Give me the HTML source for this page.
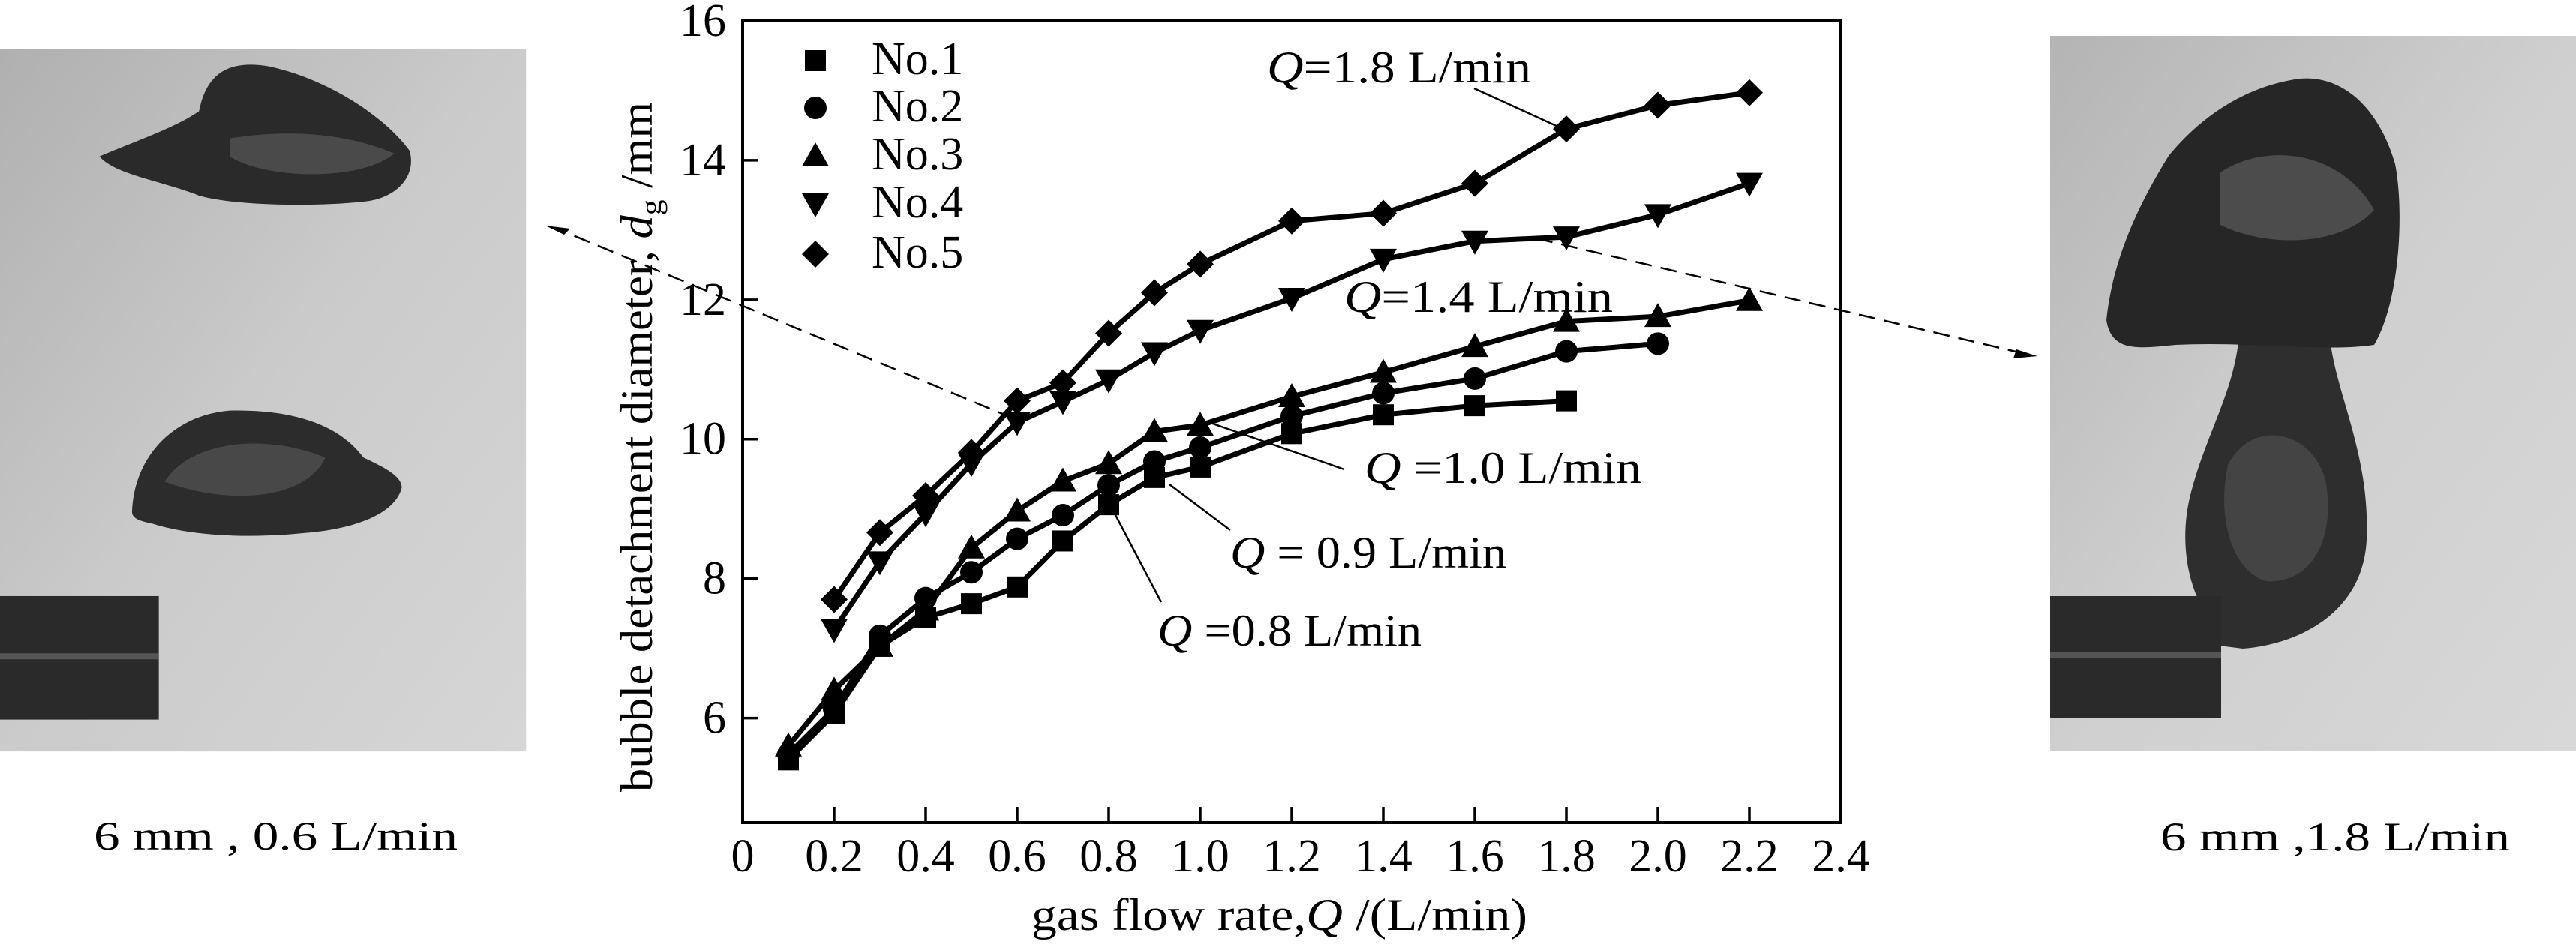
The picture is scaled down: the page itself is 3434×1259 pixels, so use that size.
<!DOCTYPE html>
<html><head><meta charset="utf-8"><style>
html,body{margin:0;padding:0;background:#fff;}
svg{display:block;}
text{font-family:"Liberation Serif",serif;fill:#000;}
</style></head><body>
<svg id="fig" width="3434" height="1259" viewBox="0 0 3434 1259" xmlns="http://www.w3.org/2000/svg">
<defs>
<linearGradient id="bgL" x1="0" y1="0" x2="1" y2="1"><stop offset="0" stop-color="#b0b0b0"/><stop offset="0.5" stop-color="#cbcbcb"/><stop offset="1" stop-color="#d6d6d6"/></linearGradient>
<linearGradient id="bgR" x1="0" y1="0" x2="1" y2="1"><stop offset="0" stop-color="#b4b4b4"/><stop offset="0.5" stop-color="#cfcfcf"/><stop offset="1" stop-color="#d8d8d8"/></linearGradient>
</defs>
<!-- left photo -->
<g transform="scale(0.51,0.803)">
<rect x="0" y="82" width="1375" height="1166" fill="url(#bgL)"/>
<path d="M260,260 C330,240 450,215 520,185 C540,120 600,100 700,110 C850,130 1000,190 1070,250 C1090,290 1040,330 950,335 C800,345 600,340 520,325 C420,300 300,290 260,260 Z" fill="#2a2a2a"/>
<path d="M600,230 C750,215 900,220 1030,255 C950,300 700,300 600,260 Z" fill="#4a4a4a"/>
<path d="M345,850 C350,760 450,690 600,682 C750,680 880,700 950,760 C1000,775 1050,790 1050,810 C1030,860 900,880 800,885 C650,895 500,890 400,870 C360,865 345,860 345,850 Z" fill="#2c2c2c"/>
<path d="M430,800 C500,730 700,720 850,760 C800,830 600,840 430,800 Z" fill="#484848"/>
<rect x="0" y="990" width="415" height="205" fill="#2a2a2a"/>
<rect x="0" y="1085" width="415" height="10" fill="#555"/>
</g>
<text x="125" y="1133" font-size="54" textLength="485" lengthAdjust="spacingAndGlyphs">6 mm , 0.6  L/min</text>
<!-- right photo -->
<g>
<rect x="2733" y="48" width="701" height="953" fill="url(#bgR)"/>
<path d="M2985,445 L3105,440 C3110,520 3160,600 3155,720 C3150,820 3060,860 2990,865 L2950,860 L2950,830 C2915,790 2905,720 2920,660 C2940,580 2980,520 2985,445 Z" fill="#2e2e2e"/>
<path d="M2970,620 C3000,560 3080,570 3100,640 C3115,720 3080,780 3020,775 C2975,760 2955,690 2970,620 Z" fill="#444"/>
<path d="M2808,427 C2815,360 2840,290 2891,208 C2930,160 2990,115 3066,105 C3120,100 3170,140 3193,219 C3205,280 3200,400 3165,460 C3100,470 3000,455 2900,460 C2850,465 2815,470 2808,427 Z" fill="#262626"/>
<path d="M2960,230 C3020,190 3120,200 3165,280 C3120,330 3020,330 2960,300 Z" fill="#4c4c4c"/>
<rect x="2733" y="795" width="228" height="162" fill="#2a2a2a"/>
<rect x="2733" y="870" width="228" height="7" fill="#555"/>
</g>
<text x="2880" y="1134" font-size="54" textLength="466" lengthAdjust="spacingAndGlyphs">6 mm ,1.8  L/min</text>

<!-- dashed arrows -->
<g>
<line x1="1351" y1="558" x2="740" y2="304" stroke="#000" stroke-width="2.5" stroke-dasharray="22,12"/>
<path d="M727,301 L760,305 L752,313 Z" fill="#000"/>
</g>
<g>
<line x1="2048" y1="318" x2="2700" y2="472" stroke="#000" stroke-width="2.5" stroke-dasharray="22,12"/>
<path d="M2716,475 L2684,478 L2688,466 Z" fill="#000"/>
</g>

<g id="chart"></g>
</svg>
<script>
const xs1 = [0.1,0.2,0.3,0.4,0.5,0.6,0.7,0.8,0.9,1.0,1.2,1.4,1.6,1.8];
const ys1 = [5.4,6.06,7.03,7.44,7.64,7.88,8.54,9.06,9.45,9.6,10.08,10.35,10.48,10.55];
const xs2 = [0.1,0.2,0.3,0.4,0.5,0.6,0.7,0.8,0.9,1.0,1.2,1.4,1.6,1.8,2.0];
const ys2 = [5.48,6.13,7.18,7.72,8.09,8.57,8.91,9.34,9.68,9.88,10.33,10.66,10.87,11.26,11.37];
const xs3 = [0.1,0.2,0.3,0.4,0.5,0.6,0.7,0.8,0.9,1.0,1.2,1.4,1.6,1.8,2.0,2.2];
const ys3 = [5.6,6.4,7.03,7.55,8.44,8.97,9.4,9.65,10.11,10.2,10.61,10.96,11.33,11.69,11.76,11.99];
const xs4 = [0.2,0.3,0.4,0.5,0.6,0.7,0.8,0.9,1.0,1.2,1.4,1.6,1.8,2.0,2.2];
const ys4 = [7.27,8.24,8.93,9.65,10.24,10.54,10.85,11.24,11.56,12.02,12.58,12.84,12.9,13.22,13.67];
const xs5 = [0.2,0.3,0.4,0.5,0.6,0.7,0.8,0.9,1.0,1.2,1.4,1.6,1.8,2.0,2.2];
const ys5 = [7.7,8.66,9.19,9.81,10.55,10.81,11.52,12.1,12.51,13.13,13.24,13.67,14.45,14.79,14.97];
const seriesNames = ["No.1","No.2","No.3","No.4","No.5"];
const xTicks = [0,0.2,0.4,0.6,0.8,1.0,1.2,1.4,1.6,1.8,2.0,2.2,2.4];
const xTickLabels = ["0","0.2","0.4","0.6","0.8","1.0","1.2","1.4","1.6","1.8","2.0","2.2","2.4"];
const yTicks = [6,8,10,12,14,16];
const yTickLabels = ["6","8","10","12","14","16"];

const NS = "http://www.w3.org/2000/svg";
const L=990, R=2454, T=28, B=1097, XMIN=0, XMAX=2.4, YMIN=4.5, YMAX=16;
const X = v => L + (v-XMIN)/(XMAX-XMIN)*(R-L);
const Y = v => B - (v-YMIN)/(YMAX-YMIN)*(B-T);
const chart = document.getElementById('chart');
function el(tag, attrs, parent){const e=document.createElementNS(NS,tag);for(const k in attrs)e.setAttribute(k,attrs[k]);(parent||chart).appendChild(e);return e;}

const frame = el('rect',{x:L,y:T,width:R-L,height:B-T,fill:'none',stroke:'#000','stroke-width':4});



xTicks.forEach((v,i)=>{
  if(i>0 && i<xTicks.length-1){
    const t=el('line',{x1:X(v),y1:B,x2:X(v),y2:B-21,stroke:'#000','stroke-width':3.5});
    
    
  }
  const lb=el('text',{x:X(v),y:1162,'font-size':62,'text-anchor':'middle'});
  lb.textContent=xTickLabels[i];
  
  
});
yTicks.forEach((v,i)=>{
  if(v<16){
    const t=el('line',{x1:L,y1:Y(v),x2:L+21,y2:Y(v),stroke:'#000','stroke-width':3.5});
    
    
  }
  const lb=el('text',{x:968,y:Y(v)+20,'font-size':62,'text-anchor':'end'});
  lb.textContent=yTickLabels[i];
  
  
});

function marker(kind,cx,cy,parent){
  let m;
  if(kind===0) m=el('rect',{x:cx-14,y:cy-14,width:28,height:28,fill:'#000'},parent);
  else if(kind===1) m=el('circle',{cx:cx,cy:cy,r:15,fill:'#000'},parent);
  else if(kind===2) m=el('path',{d:`M${cx},${cy-18} L${cx+18},${cy+14} L${cx-18},${cy+14} Z`,fill:'#000'},parent);
  else if(kind===3) m=el('path',{d:`M${cx},${cy+18} L${cx+18},${cy-14} L${cx-18},${cy-14} Z`,fill:'#000'},parent);
  else m=el('path',{d:`M${cx},${cy-18} L${cx+18},${cy} L${cx},${cy+18} L${cx-18},${cy} Z`,fill:'#000'},parent);
  return m;
}

const allX=[xs1,xs2,xs3,xs4,xs5], allY=[ys1,ys2,ys3,ys4,ys5];
allX.forEach((xs,s)=>{
  const g=el('g',{});
  
  
  const pts=xs.map((x,i)=>X(x)+','+Y(allY[s][i])).join(' ');
  const pl=el('polyline',{points:pts,fill:'none',stroke:'#000','stroke-width':7,'stroke-linejoin':'round'},g);
  
  
  xs.forEach((x,i)=>{
    const m=marker(s,X(x),Y(allY[s][i]),g);
    
    
  });
});

// legend
const legY=[81,144,208,272,339];
seriesNames.forEach((n,i)=>{
  const g=el('g',{});
  
  
  marker(i,1087,legY[i],g);
  const t=el('text',{x:1162,y:legY[i]+18,'font-size':62},g);
  t.textContent=n;
});

// annotations
function ann(txt,x,y,len,name){
  const t=el('text',{x:x,y:y,'font-size':60,textLength:len,lengthAdjust:'spacingAndGlyphs'});
  t.innerHTML=txt;
  
  
}
function lead(x1,y1,x2,y2){
  const l=el('line',{x1,y1,x2,y2,stroke:'#000','stroke-width':2.5});
  
  
}
ann('<tspan font-style="italic">Q</tspan>=1.8 L/min',1689,110,352,'annotation-q-1-8');
lead(1965,118,2079,170);
ann('<tspan font-style="italic">Q</tspan>=1.4 L/min',1792,416,358,'annotation-q-1-4');
ann('<tspan font-style="italic">Q</tspan> =1.0 L/min',1819,644,369,'annotation-q-1-0');
lead(1792,626,1608,562);
ann('<tspan font-style="italic">Q</tspan> = 0.9 L/min',1640,757,368,'annotation-q-0-9');
lead(1640,707,1559,646);
ann('<tspan font-style="italic">Q</tspan> =0.8 L/min',1543,861,352,'annotation-q-0-8');
lead(1548,803,1485,683);

// axis titles
const xt=el('text',{x:1375,y:1240,'font-size':60,textLength:661,lengthAdjust:'spacingAndGlyphs'});
xt.innerHTML='gas flow rate,<tspan font-style="italic">Q</tspan> /(L/min)';


const yt=el('text',{x:0,y:0,'font-size':60,'text-anchor':'middle',transform:'translate(869,596) rotate(-90)',textLength:920,lengthAdjust:'spacingAndGlyphs'});
yt.innerHTML='bubble detachment diameter, <tspan font-style="italic">d</tspan><tspan font-size="40" dy="12">g</tspan><tspan dy="-12"> /mm</tspan>';


</script>
</body></html>
